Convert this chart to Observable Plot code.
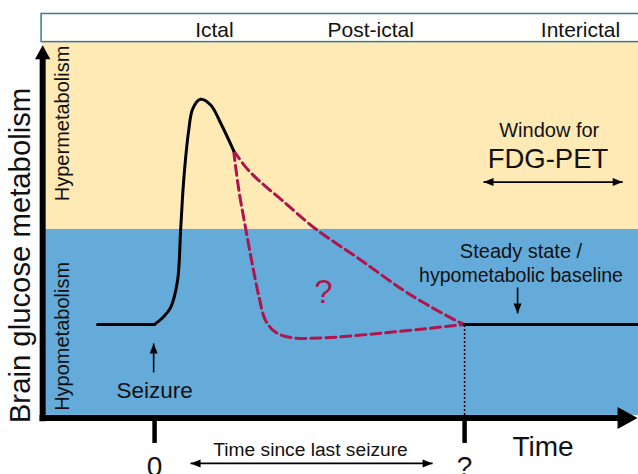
<!DOCTYPE html>
<html>
<head>
<meta charset="utf-8">
<script src="https://cdn.jsdelivr.net/npm/d3@7"></script>
<script src="https://cdn.jsdelivr.net/npm/@observablehq/plot@0.6"></script>
<style>
  html, body { margin: 0; padding: 0; background: #fff; }
  #chart svg { display: block; }
</style>
</head>
<body>
<div id="chart"></div>
<script>
// ---- Data (time units: seizure = 0, return to baseline = "?"; metabolism: baseline = 0, hyper/hypo boundary = 1)
const phases = ["Ictal", "Post-ictal", "Interictal"];
const phaseTime = [1.93, 6.97, 13.74];

const tickTimes = [0, 10];
const tickLabels = ["0", "?"];

// Pre-seizure baseline (solid black)
const preTime = [-1.84, 0];
const preValue = [0, 0];

// Ictal response (solid black)
const ictalTime = [0, 0.29, 0.52, 0.74, 0.84, 0.94, 1.10, 1.23, 1.48, 1.81, 2.13, 2.55];
const ictalValue = [0, 0.08, 0.18, 0.46, 0.99, 1.52, 2.04, 2.27, 2.37, 2.31, 2.12, 1.83];

// Post-ictal possibilities (dashed red)
const slowTime = [2.55, 2.94, 3.36, 4.12, 5.19, 6.59, 8.20, 9.82, 10];
const slowValue = [1.83, 1.656, 1.516, 1.305, 1.007, 0.692, 0.323, 0.024, 0];
const fastTime = [2.55, 2.72, 2.94, 3.15, 3.37, 3.58, 3.90, 4.44, 5.52, 7.13, 8.74, 10];
const fastValue = [1.83, 1.41, 1.007, 0.639, 0.287, 0.042, -0.081, -0.14, -0.14, -0.098, -0.045, 0];

// Interictal steady state
const steadyTime = [10, 15.8];
const steadyValue = [0, 0];

// Zones
const zoneNames = ["Hypermetabolism", "Hypometabolism"];
const zoneLow = [1, -0.958];
const zoneHigh = [2.968, 1];
const zoneColors = ["#FFEAB6", "#65ABD9"];

// ---- Layout
const X_DOMAIN = [-4.97, 15.61];
const Y_DOMAIN = [-1.58, 3.41];
const FONT = "'Liberation Sans', Arial, Helvetica, sans-serif";
const RED = "#B0144C";

const toRows = (xs, ys) => xs.map((x, i) => ({x, y: ys[i]}));
const pre = toRows(preTime, preValue);
const ictal = toRows(ictalTime, ictalValue);
const slow = toRows(slowTime, slowValue);
const fast = toRows(fastTime, fastValue);
const steady = toRows(steadyTime, steadyValue);
const zones = zoneNames.map((n, i) => ({name: n, y1: zoneLow[i], y2: zoneHigh[i], fill: zoneColors[i]}));

const axisLines = [
  {x1: -3.61, y1: -1.02, x2: -3.61, y2: 2.80},
  {x1: -3.71, y1: -0.984, x2: 15.0, y2: -0.984}
];
const axisHeads = [
  {x: -3.61, y: 2.94, r: 7, angle: 0},
  {x: 15.58, y: -0.984, r: 10, angle: 90}
];
const annotArrows = [
  {x1: -0.03, y1: -0.505, x2: -0.03, y2: -0.20, both: false},
  {x1: 11.71, y1: 0.389, x2: 11.71, y2: 0.116, both: false},
  {x1: 1.16, y1: -1.463, x2: 8.97, y2: -1.463, both: true},
  {x1: 10.61, y1: 1.498, x2: 15.10, y2: 1.498, both: true}
];
const dirAngle = (a, b) => b.x > a.x ? 90 : b.x < a.x ? 270 : b.y > a.y ? 0 : 180;
const smallHeads = [];
for (const a of annotArrows) {
  const p1 = {x: a.x1, y: a.y1}, p2 = {x: a.x2, y: a.y2};
  smallHeads.push({x: a.x2, y: a.y2, r: 5, angle: dirAngle(p1, p2)});
  if (a.both) smallHeads.push({x: a.x1, y: a.y1, r: 5, angle: dirAngle(p2, p1)});
}
const headSymbol = (k) => ({
  draw(ctx, size) {
    const r = Math.sqrt(size / Math.PI);
    ctx.moveTo(0, 0);
    ctx.lineTo(-k * r, 2 * r);
    ctx.lineTo(k * r, 2 * r);
    ctx.closePath();
  }
});

const labels = [
  {x: 0, y: -0.70, text: "Seizure", size: 22.5},
  {x: 5.03, y: -1.316, text: "Time since last seizure", size: 19.2},
  {x: 12.53, y: -1.295, text: "Time", size: 28},
  {x: 12.73, y: 2.042, text: "Window for", size: 20},
  {x: 12.69, y: 1.737, text: "FDG-PET", size: 27.5},
  {x: 11.82, y: 0.768, text: "Steady state /", size: 20},
  {x: 11.82, y: 0.516, text: "hypometabolic baseline", size: 19.5}
];

const chart = Plot.plot({
  width: 638,
  height: 474,
  margin: 0,
  style: {fontFamily: FONT, background: "#fff"},
  x: {domain: X_DOMAIN, axis: null},
  y: {domain: Y_DOMAIN, axis: null},
  r: {type: "identity"},
  marks: [
    Plot.rect(zones, {x1: -3.61, x2: 15.8, y1: "y1", y2: "y2", fill: "fill"}),
    Plot.rect([0], {x1: -3.645, x2: 15.8, y1: 2.972, y2: 3.268, fill: "#fff", stroke: "#3C7B88", strokeWidth: 1.5}),
    Plot.text(phases, {x: (d, i) => phaseTime[i], y: 3.095, text: d => d, fontSize: 21, fill: "#111"}),
    Plot.text(zones, {x: -2.98, y: [2.116, -0.126], text: "name", rotate: -90, fontSize: 20, fill: "#111"}),
    Plot.text(["Brain glucose metabolism"], {x: -4.32, y: 0.726, text: d => d, rotate: -90, fontSize: 29.3, fill: "#111"}),
    Plot.line(fast, {x: "x", y: "y", curve: "catmull-rom", stroke: RED, strokeWidth: 3, strokeDasharray: "10,5"}),
    Plot.line(slow, {x: "x", y: "y", curve: "catmull-rom", stroke: RED, strokeWidth: 3, strokeDasharray: "10,5"}),
    Plot.line(pre, {x: "x", y: "y", stroke: "#000", strokeWidth: 3}),
    Plot.line(ictal, {x: "x", y: "y", curve: "catmull-rom", stroke: "#000", strokeWidth: 3}),
    Plot.line(steady, {x: "x", y: "y", stroke: "#000", strokeWidth: 3}),
    Plot.ruleX([10], {y1: -0.958, y2: 0, stroke: "#000", strokeWidth: 1.5, strokeDasharray: "2,2"}),
    Plot.text(["?"], {x: 5.45, y: 0.337, text: d => d, fontSize: 33, fill: RED}),
    Plot.link(axisLines, {x1: "x1", y1: "y1", x2: "x2", y2: "y2", stroke: "#000", strokeWidth: 6}),
    Plot.dot(axisHeads, {x: "x", y: "y", r: "r", rotate: "angle", symbol: headSymbol(1.1), fill: "#000", stroke: "none"}),
    Plot.ruleX(tickTimes, {y1: -1.01, y2: -1.253, stroke: "#000", strokeWidth: 4.5}),
    Plot.text(tickTimes, {x: d => d, y: -1.505, text: (d, i) => tickLabels[i], fontSize: 28, fill: "#111"}),
    Plot.link(annotArrows, {x1: "x1", y1: "y1", x2: "x2", y2: "y2", stroke: "#000", strokeWidth: 1.6}),
    Plot.dot(smallHeads, {x: "x", y: "y", r: "r", rotate: "angle", symbol: headSymbol(0.8), fill: "#000", stroke: "none"}),
    Plot.text(labels, {x: "x", y: "y", text: "text", fontSize: d => d.size, fill: "#111"})
  ]
});
document.getElementById("chart").appendChild(chart);
</script>
</body>
</html>
